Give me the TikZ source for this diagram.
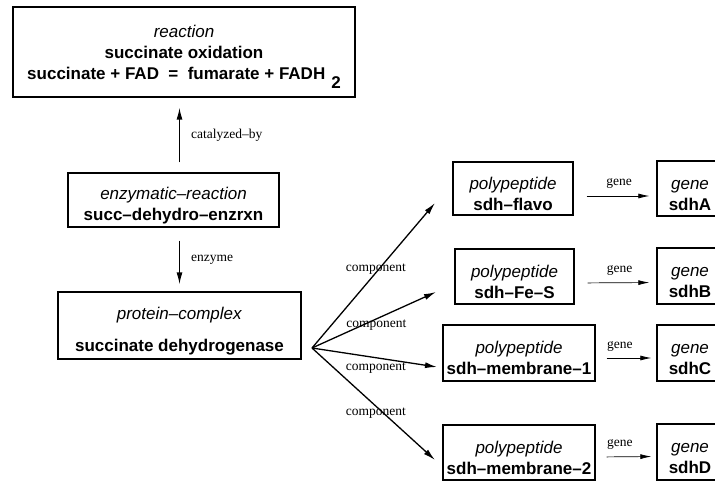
\documentclass[tikz,border=0pt]{standalone}
\usepackage{fontspec}
\setmainfont{Liberation Sans}
\newfontfamily\lblfont{Liberation Serif}
\usetikzlibrary{arrows.meta}
% type line of a box, set a bit lower than centre
\newcommand{\entkind}[1]{\rule{0pt}{23pt}\textit{#1}}

\begin{document}
\begin{tikzpicture}[x=1pt, y=-1pt,
    every node/.style={font=\fontsize{17}{21}\selectfont},
    box/.style={draw, line width=1.3pt, align=center, inner sep=0pt},
    lbl/.style={font=\lblfont\fontsize{13.5}{15}\selectfont, inner sep=1pt},
    rel/.style={-{Latex[length=12pt,width=6pt]}, line width=1.3pt},
    generel/.style={-{Latex[length=11pt,width=5pt]}, line width=0.7pt}]
  \useasboundingbox (0,0) rectangle (715,481);
  \clip (0,0) rectangle (715,481);
  % left column
  \node[box, minimum width=342, minimum height=90] (rxn) at (184,52)
    {\textit{reaction}\\ \textbf{succinate oxidation}\\
     \textbf{succinate + FAD \ = \ fumarate + FADH}\hspace{6pt}\smash{\raisebox{-9pt}{\textbf{2}}}};
  \node[box, minimum width=211, minimum height=54] (enz) at (173.5,200)
    {\entkind{enzymatic–reaction}\\ \textbf{succ–dehydro–enzrxn}};
  \node[box, minimum width=243, minimum height=67] (cplx) at (179.5,325.5)
    {\entkind{protein–complex}\\[11pt] \textbf{succinate dehydrogenase}};
  % polypeptides
  \node[box, minimum width=120, minimum height=53] (pp1) at (513,188.5)
    {\entkind{polypeptide}\\ \textbf{sdh–flavo}};
  \node[box, minimum width=119, minimum height=55] (pp2) at (514.5,276.5)
    {\entkind{polypeptide}\\ \textbf{sdh–Fe–S}};
  \node[box, minimum width=152, minimum height=56] (pp3) at (519,353)
    {\entkind{polypeptide}\\ \textbf{sdh–membrane–1}};
  \node[box, minimum width=152, minimum height=55] (pp4) at (519,452.5)
    {\entkind{polypeptide}\\ \textbf{sdh–membrane–2}};
  % genes (cut at the right edge)
  \node[box, minimum width=66, minimum height=55] (g1) at (690,188.5) {\entkind{gene}\\ \textbf{sdhA}};
  \node[box, minimum width=66, minimum height=56] (g2) at (690,276) {\entkind{gene}\\ \textbf{sdhB}};
  \node[box, minimum width=66, minimum height=56] (g3) at (690,353) {\entkind{gene}\\ \textbf{sdhC}};
  \node[box, minimum width=66, minimum height=56] (g4) at (690,452) {\entkind{gene}\\ \textbf{sdhD}};
  % vertical links
  \draw[rel, shorten <=10pt, shorten >=10pt] (enz.north -| cplx.north) -- node[lbl, right=10pt] {catalyzed–by} (rxn.south -| cplx.north);
  \draw[rel, shorten <=13pt, shorten >=7pt] (enz.south -| cplx.north) -- node[lbl, right=10pt] {enzyme} (cplx.north);
  % components
  \coordinate (hub) at (312,348);
  \coordinate (tip1) at (435,203);
  \coordinate (tip2) at (436,292);
  \coordinate (tip3) at (437,367);
  \coordinate (tip4) at (435,460);
  \draw[rel] (hub) -- node[lbl, pos=.52, yshift=3pt] {component} (tip1);
  \draw[rel] (hub) -- node[lbl, pos=.52, yshift=-6pt] {component} (tip2);
  \draw[rel] (hub) -- node[lbl, pos=.51, yshift=-10pt] {component} (tip3);
  \draw[rel] (hub) -- node[lbl, pos=.52, yshift=-7pt] {component} (tip4);
  % gene links
  \draw[generel, shorten <=13pt, shorten >=7pt] ([yshift=-7.5pt]pp1.east) -- node[lbl, pos=.55, above=6pt] {gene} ([yshift=-7.5pt]g1.west);
  \draw[generel, shorten <=13pt, shorten >=7pt] ([yshift=-6.5pt]pp2.east) -- node[lbl, pos=.55, above=6pt] {gene} ([yshift=-6.5pt]g2.west);
  \draw[generel, shorten <=11pt, shorten >=5pt] ([yshift=-5pt]pp3.east) -- node[lbl, pos=.4, above=5pt] {gene} ([yshift=-5pt]g3.west);
  \draw[generel, shorten <=11pt, shorten >=5pt] ([yshift=-4.5pt]pp4.east) -- node[lbl, pos=.4, above=6pt] {gene} ([yshift=-4.5pt]g4.west);
\end{tikzpicture}
\end{document}
